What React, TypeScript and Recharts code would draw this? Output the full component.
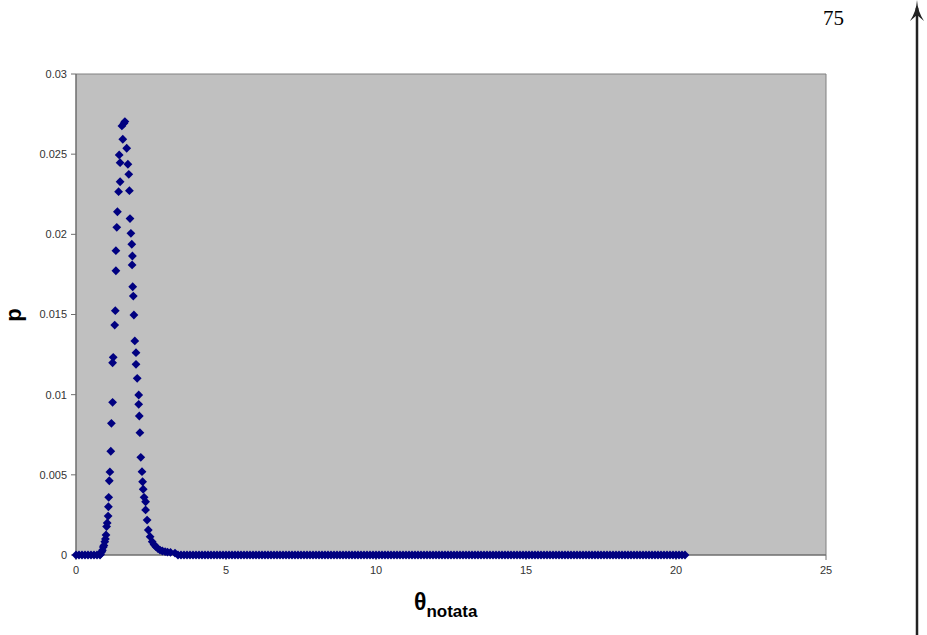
import React from "react";
import {
  ScatterChart,
  Scatter,
  XAxis,
  YAxis,
  CartesianGrid,
  ReferenceLine,
} from "recharts";

// values (theta, p)
const peakX = [
  0.82, 0.86, 0.88, 0.91, 0.93, 0.96, 0.98, 1.0, 1.02, 1.04, 1.07, 1.08, 1.09,
  1.11, 1.13, 1.16, 1.18, 1.22, 1.22, 1.24, 1.29, 1.31, 1.33, 1.33, 1.36, 1.38,
  1.42, 1.47, 1.47, 1.44, 1.56, 1.53, 1.6, 1.63, 1.69, 1.73, 1.76, 1.78, 1.8,
  1.83, 1.86, 1.88, 1.87, 1.89, 1.91, 1.93, 1.96, 2.0, 2.0, 2.04, 2.09, 2.09,
  2.11, 2.13, 2.16, 2.2, 2.22, 2.24, 2.27, 2.32, 2.32, 2.37, 2.41, 2.47, 2.54,
  2.6, 2.66, 2.73, 2.8, 2.88, 2.97, 3.05, 3.15, 3.3,
];
const peakY = [
  0.00005, 0.0002, 0.0003, 0.0005, 0.0006, 0.00083, 0.001, 0.00125, 0.00177,
  0.002, 0.00243, 0.00301, 0.0036, 0.00463, 0.00518, 0.00647, 0.00821, 0.00952,
  0.01199, 0.01233, 0.01434, 0.01524, 0.01773, 0.01898, 0.02044, 0.02141,
  0.02266, 0.02328, 0.02447, 0.02495, 0.02593, 0.02676, 0.02693, 0.02703,
  0.02537, 0.02437, 0.02374, 0.02272, 0.02098, 0.02006, 0.01938, 0.01865,
  0.01809, 0.01673, 0.01615, 0.01497, 0.01335, 0.01262, 0.01189, 0.01102,
  0.00998, 0.0094, 0.00867, 0.00763, 0.00609, 0.0052, 0.00457, 0.0041, 0.0036,
  0.00332, 0.00281, 0.00218, 0.00156, 0.00114, 0.00083, 0.00065, 0.00052,
  0.0004, 0.00031, 0.00025, 0.00021, 0.00018, 0.00016, 0.00012,
];

// points sitting on p = 0
const zeroX = [
  0, 0.1, 0.2, 0.3, 0.4, 0.5, 0.6, 0.7, 0.8,
  3.4, 3.5, 3.6, 3.7, 3.8, 3.9, 4.0, 4.1, 4.2, 4.3,
  4.4, 4.5, 4.6, 4.7, 4.8, 4.9, 5.0, 5.1, 5.2, 5.3,
  5.4, 5.5, 5.6, 5.7, 5.8, 5.9, 6.0, 6.1, 6.2, 6.3,
  6.4, 6.5, 6.6, 6.7, 6.8, 6.9, 7.0, 7.1, 7.2, 7.3,
  7.4, 7.5, 7.6, 7.7, 7.8, 7.9, 8.0, 8.1, 8.2, 8.3,
  8.4, 8.5, 8.6, 8.7, 8.8, 8.9, 9.0, 9.1, 9.2, 9.3,
  9.4, 9.5, 9.6, 9.7, 9.8, 9.9, 10.0, 10.1, 10.2, 10.3,
  10.4, 10.5, 10.6, 10.7, 10.8, 10.9, 11.0, 11.1, 11.2, 11.3,
  11.4, 11.5, 11.6, 11.7, 11.8, 11.9, 12.0, 12.1, 12.2, 12.3,
  12.4, 12.5, 12.6, 12.7, 12.8, 12.9, 13.0, 13.1, 13.2, 13.3,
  13.4, 13.5, 13.6, 13.7, 13.8, 13.9, 14.0, 14.1, 14.2, 14.3,
  14.4, 14.5, 14.6, 14.7, 14.8, 14.9, 15.0, 15.1, 15.2, 15.3,
  15.4, 15.5, 15.6, 15.7, 15.8, 15.9, 16.0, 16.1, 16.2, 16.3,
  16.4, 16.5, 16.6, 16.7, 16.8, 16.9, 17.0, 17.1, 17.2, 17.3,
  17.4, 17.5, 17.6, 17.7, 17.8, 17.9, 18.0, 18.1, 18.2, 18.3,
  18.4, 18.5, 18.6, 18.7, 18.8, 18.9, 19.0, 19.1, 19.2, 19.3,
  19.4, 19.5, 19.6, 19.7, 19.8, 19.9, 20.0, 20.1, 20.2, 20.3,
];

const xTicks = [0, 5, 10, 15, 20, 25];
const yTicks = [0, 0.005, 0.01, 0.015, 0.02, 0.025, 0.03];

const NAVY = "#000080";

const Diamond = (props: any) => {
  const { cx, cy } = props;
  const r = 4.4;
  return (
    <path
      d={`M${cx},${cy - r}L${cx + r},${cy}L${cx},${cy + r}L${cx - r},${cy}Z`}
      fill={NAVY}
    />
  );
};

export default function App() {
  const zeroData = zeroX.map((x) => ({ x, y: 0 }));
  const peakData = peakX.map((x, i) => ({ x, y: peakY[i] }));

  const tickStyle = { fill: "#333", fontSize: 11, fontFamily: "Liberation Sans, Arial, sans-serif" };

  return (
    <div style={{ position: "absolute", left: 0, top: 0, width: 927, height: 635, background: "#fff" }}>
      <ScatterChart
        width={927}
        height={635}
        margin={{ top: 74, right: 101, bottom: 50, left: 16 }}
      >
        <CartesianGrid horizontal={false} vertical={false} fill="#C0C0C0" />
        <XAxis
          type="number"
          dataKey="x"
          domain={[0, 25]}
          ticks={xTicks}
          height={30}
          tick={tickStyle}
          tickSize={5}
          tickMargin={6}
          axisLine={{ stroke: "#6e6e6e", strokeWidth: 1.5 }}
          tickLine={{ stroke: "#6e6e6e" }}
        />
        <YAxis
          type="number"
          dataKey="y"
          domain={[0, 0.03]}
          ticks={yTicks}
          width={60}
          tick={tickStyle}
          tickSize={5}
          tickMargin={4}
          axisLine={{ stroke: "#6e6e6e", strokeWidth: 1.5 }}
          tickLine={{ stroke: "#6e6e6e" }}
        />
        <ReferenceLine y={0.03} stroke="#808080" />
        <ReferenceLine x={25} stroke="#808080" />
        <Scatter data={zeroData} shape={<Diamond />} isAnimationActive={false} />
        <Scatter data={peakData} shape={<Diamond />} isAnimationActive={false} />
      </ScatterChart>

      <div
        style={{
          position: "absolute",
          left: 2,
          top: 303,
          width: 24,
          textAlign: "center",
          transform: "rotate(-90deg)",
          fontFamily: "Liberation Sans, Arial, sans-serif",
          fontWeight: "bold",
          fontSize: 22,
          lineHeight: "24px",
        }}
      >
        p
      </div>

      <div
        style={{
          position: "absolute",
          left: 414,
          top: 589,
          fontFamily: "Liberation Sans, Arial, sans-serif",
          fontWeight: "bold",
          whiteSpace: "nowrap",
        }}
      >
        <span style={{ fontSize: 23 }}>θ</span>
        <span style={{ fontSize: 17, position: "relative", top: 7 }}>notata</span>
      </div>

      <div
        style={{
          position: "absolute",
          left: 823,
          top: 6,
          fontFamily: "Liberation Serif, Times New Roman, serif",
          fontSize: 21,
        }}
      >
        75
      </div>

      <svg style={{ position: "absolute", left: 900, top: 0 }} width={27} height={635}>
        <line x1={17} y1={8} x2={17} y2={635} stroke="#222" strokeWidth={2.5} />
        <path d="M17,0 C16.5,8 14,15 10,21 L17,15 L24,21 C20,15 17.5,8 17,0 Z" fill="#222" />
      </svg>
    </div>
  );
}
